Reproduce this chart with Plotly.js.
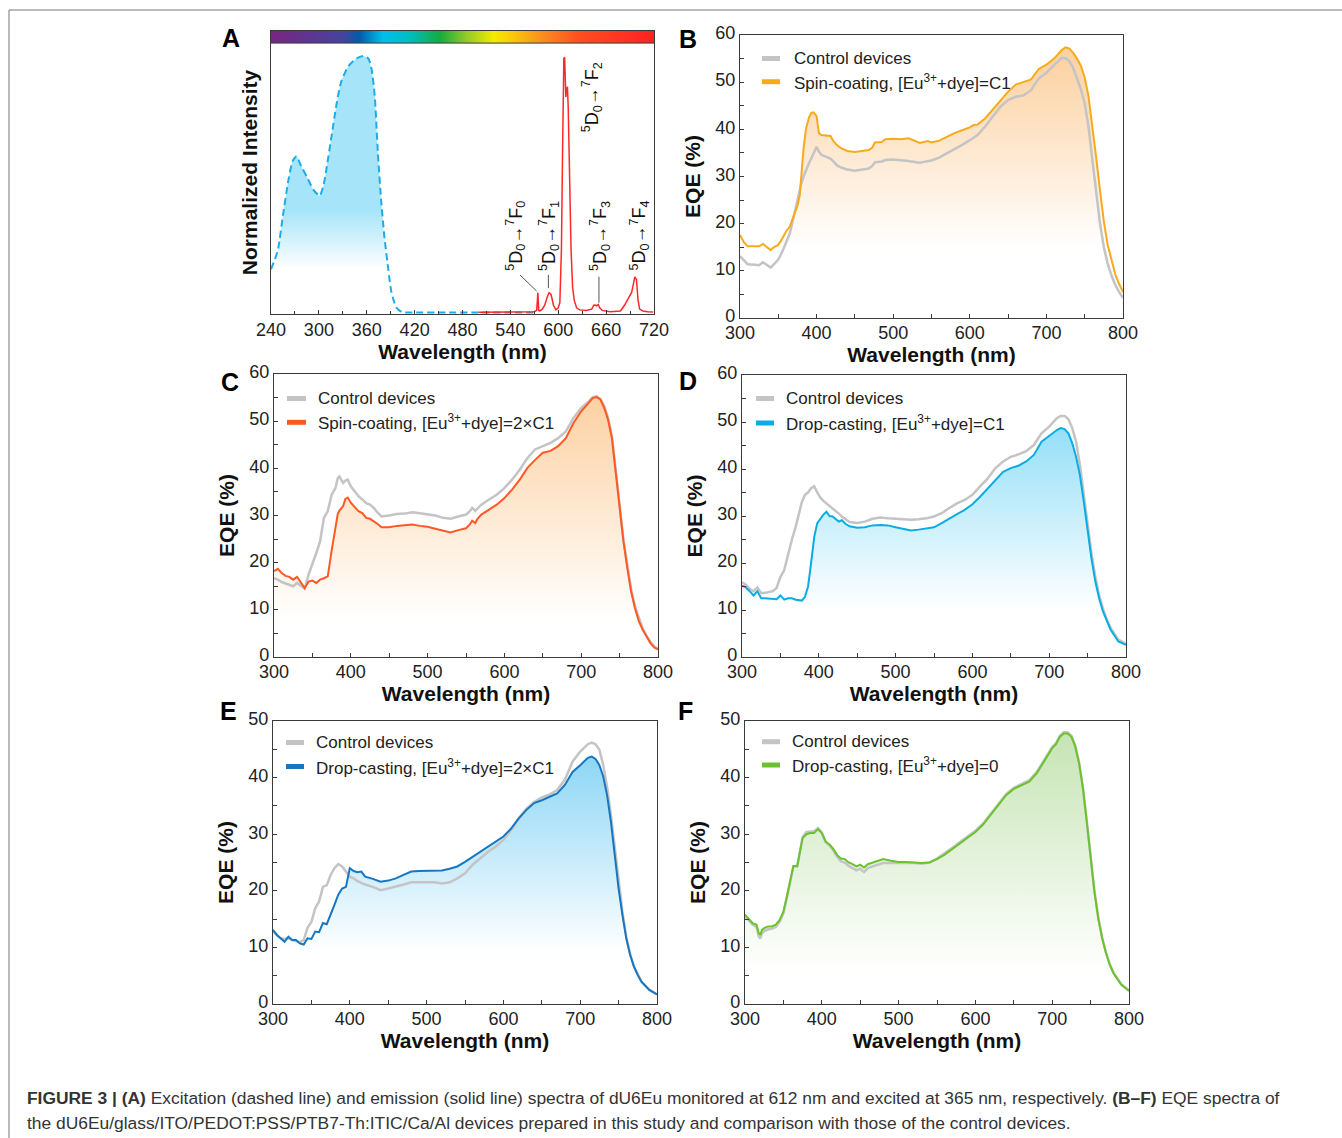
<!DOCTYPE html>
<html>
<head>
<meta charset="utf-8">
<script src="https://cdn.plot.ly/plotly-3.0.1.min.js"></script>
<style>html,body{margin:0;padding:0;background:#fff;}#chart{width:1342px;height:1138px;}</style>
</head>
<body>
<div id="chart"></div>
<script>
// ---------------- DATA ----------------
// Panel A: excitation (dashed) and emission (solid)
const A_exc_nm = [240,245,249,255,262,267,272,278,285,293,301,306,310,316,322,328,337,347,356,362,366,370,374,378,382,387,391,397,404,420,460,500,540,572];
const A_exc_int = [0.17,0.21,0.25,0.38,0.52,0.59,0.61,0.57,0.53,0.48,0.456,0.50,0.57,0.69,0.81,0.90,0.96,0.99,1.0,0.99,0.95,0.845,0.62,0.44,0.30,0.17,0.08,0.022,0.004,0.002,0.002,0.002,0.002,0.002];
const A_em_nm = [500,540,570,573,574.5,575.5,577,580,583,586,588.5,591,594,597,600,602,604,605.5,607,608,609.5,610.5,611.5,612.5,614,616,618,620,623,627,635,642,644.5,646,648,650,652,655,665,678,683,686,689,692,694,696,698,700,702,706,712,719];
const A_em_int = [0.003,0.004,0.005,0.01,0.079,0.01,0.008,0.015,0.03,0.06,0.079,0.072,0.03,0.012,0.02,0.04,0.25,0.65,0.99,0.995,0.84,0.87,0.88,0.8,0.55,0.25,0.1,0.05,0.02,0.012,0.01,0.015,0.03,0.031,0.028,0.033,0.02,0.01,0.005,0.008,0.03,0.045,0.062,0.08,0.11,0.14,0.13,0.05,0.015,0.008,0.005,0.004];
const A_transitions = ['<sup>5</sup>D<sub>0</sub>→<sup>7</sup>F<sub>0</sub>','<sup>5</sup>D<sub>0</sub>→<sup>7</sup>F<sub>1</sub>','<sup>5</sup>D<sub>0</sub>→<sup>7</sup>F<sub>2</sub>','<sup>5</sup>D<sub>0</sub>→<sup>7</sup>F<sub>3</sub>','<sup>5</sup>D<sub>0</sub>→<sup>7</sup>F<sub>4</sub>'];
const A_ticks = [240,300,360,420,480,540,600,660,720];
const BAR_nm = [240,720];

// Panel B
const B_nm = [300,305,310,320,325,330,335,340,345,350,355,360,365,370,375,378,380,383,386,390,393,396,400,403,406,412,418,422,427,432,440,450,460,468,473,476,485,490,500,510,520,530,535,540,545,550,560,570,580,590,600,605,610,620,630,640,650,660,670,680,690,700,710,720,725,730,735,740,745,750,755,760,765,770,775,780,785,790,795,800];
const B_dev = [17.6,16.1,15.2,15.1,15.2,15.7,15.1,14.4,15.1,15.5,16.8,18.3,19.4,21.4,23.8,26.0,30.0,36.0,40.0,42.5,43.5,43.6,42.8,39.2,38.8,38.7,38.6,37.5,36.6,36.0,35.4,35.2,35.4,35.6,36.2,37.2,37.3,37.9,38.0,37.9,38.1,37.4,37.1,37.3,37.5,37.2,37.6,38.4,39.2,39.8,40.4,40.9,41.0,42.3,44.2,46.0,48.0,49.5,50.0,50.6,52.8,53.7,55.0,56.8,57.4,57.1,56.2,55.0,53.5,51.0,47.0,41.0,34.0,27.0,20.5,15.5,12.0,9.2,7.2,5.5];
const B_ctrl = [13.1,12.2,11.4,11.3,11.2,11.8,11.2,10.7,11.5,12.4,14.0,15.8,17.9,21.4,25.0,27.0,28.5,30.0,31.4,32.8,33.8,34.8,36.3,35.3,34.6,34.2,33.8,33.2,32.3,31.9,31.5,31.2,31.5,31.7,32.3,33.0,33.2,33.5,33.6,33.5,33.3,33.0,32.9,33.1,33.3,33.4,34.0,34.9,35.7,36.7,37.7,38.3,38.8,40.6,42.7,44.8,46.2,46.9,47.2,48.3,50.8,52.0,53.6,55.1,55.1,54.4,53.0,50.8,48.5,45.5,40.5,33.5,26.5,20.0,15.0,11.5,9.0,7.0,5.5,4.3];

// Panel C
const C_nm = [300,305,310,315,320,325,330,335,340,345,350,355,360,365,370,375,380,383,385,390,393,396,400,405,410,415,420,425,430,435,440,450,460,470,480,490,500,510,520,530,540,550,555,558,562,565,570,580,590,600,610,620,630,640,650,660,670,680,690,700,710,715,720,725,730,735,740,745,750,755,760,765,770,775,780,785,790,795,800];
const C_dev = [18.2,18.7,17.8,17.2,17.0,16.4,17.0,15.7,14.6,16.0,16.2,15.7,16.4,16.7,17.1,22.5,27.5,30.3,31.0,32.0,33.5,33.8,32.7,31.9,30.9,30.5,29.5,29.3,28.8,28.2,27.5,27.5,27.8,27.9,28.1,27.8,27.6,27.2,26.8,26.4,26.9,27.3,28.1,28.9,28.4,29.3,30.2,31.2,32.3,33.7,35.5,37.6,40.1,41.8,43.3,43.7,44.7,46.4,49.6,52.1,53.9,54.9,55.1,54.6,52.8,50.3,46.4,39.4,31.6,24.5,18.9,13.9,10.4,7.6,5.8,4.4,3.0,2.0,1.6];
const C_ctrl = [16.7,16.4,15.9,15.6,15.3,15.0,15.7,15.1,14.5,17.5,19.6,22.0,24.5,29.5,30.9,34.4,35.8,37.9,38.3,36.9,37.4,37.6,36.2,35.1,34.1,33.4,32.6,32.3,31.6,30.6,29.8,30.0,30.3,30.4,30.7,30.5,30.3,30.0,29.5,29.3,29.8,30.2,30.9,31.6,31.0,31.5,32.3,33.4,34.4,35.8,37.6,39.7,42.2,44.0,44.7,45.4,46.4,47.8,50.7,52.8,54.2,55.1,55.3,54.7,53.2,50.7,46.8,40.1,32.3,24.9,19.2,14.3,10.7,8.2,6.1,4.5,3.2,2.3,1.7];

// Panel D
const D_nm = [300,305,310,315,320,323,325,330,340,345,350,355,360,365,370,375,378,382,386,390,394,398,402,406,410,414,418,422,426,430,435,440,450,460,470,480,490,500,510,520,530,540,550,560,570,580,590,600,610,620,630,640,650,660,670,680,690,700,710,715,720,725,730,735,740,745,750,755,760,765,770,775,780,790,800];
const D_dev = [15.2,14.8,14.0,13.1,14.0,13.2,12.5,12.5,12.4,12.3,13.1,12.2,12.5,12.5,12.2,12.0,12.0,12.8,15.0,20.0,25.5,28.5,29.5,30.3,30.9,30.0,29.9,29.3,28.8,29.1,28.3,27.8,27.5,27.6,28.0,28.1,28.0,27.6,27.3,26.9,27.1,27.3,27.6,28.5,29.5,30.4,31.3,32.5,34.1,35.9,37.7,39.4,40.2,40.7,41.6,43.0,45.8,47.1,48.3,48.7,48.5,47.6,45.5,42.6,38.7,33.1,26.7,21.0,16.1,12.5,9.7,7.6,5.8,3.3,2.6];
const D_ctrl = [15.9,15.4,14.5,14.0,14.8,14.0,13.6,13.6,14.0,14.7,17.0,18.5,22.0,25.0,27.8,30.9,33.0,34.5,35.0,35.9,36.3,35.0,33.9,33.2,32.7,32.1,31.6,31.0,30.5,29.9,29.3,28.7,28.5,28.8,29.4,29.7,29.5,29.4,29.2,29.2,29.3,29.5,29.9,30.6,31.7,32.7,33.4,34.5,36.3,38.0,40.2,41.6,42.6,43.1,43.8,45.1,47.6,49.0,50.8,51.3,51.3,50.6,48.7,45.8,40.9,34.5,28.1,22.1,17.1,13.2,10.3,8.0,6.2,3.7,2.8];

// Panel E
const E_nm = [300,305,310,315,320,325,330,335,340,345,350,355,360,365,370,375,380,385,390,395,400,405,410,415,420,430,440,450,460,470,480,490,500,510,520,530,540,550,560,570,580,590,600,610,620,630,640,650,660,670,680,690,700,710,715,720,725,730,735,740,745,750,755,760,765,770,775,780,790,800];
const E_dev = [13.1,12.2,11.6,11.0,11.9,11.3,11.3,10.7,10.5,11.6,11.5,12.8,12.7,14.3,14.1,15.7,17.5,19.3,20.4,20.7,24.0,23.5,23.3,23.4,22.5,22.1,21.6,21.8,22.2,22.8,23.4,23.5,23.5,23.6,23.6,23.9,24.3,25.1,26.0,26.9,27.8,28.6,29.6,31.0,32.8,34.3,35.5,36.0,36.6,37.2,38.7,41.0,42.2,43.5,43.7,43.3,42.2,40.2,36.9,32.2,26.3,20.4,15.7,11.6,8.7,6.6,5.1,3.9,2.5,1.7];
const E_ctrl = [12.8,12.2,11.6,11.5,11.6,11.3,11.1,10.9,11.3,13.5,14.5,16.9,18.1,20.7,21.0,22.8,24.0,24.7,24.3,23.4,22.5,22.2,21.7,21.4,21.1,20.7,20.1,20.4,20.7,21.1,21.5,21.5,21.4,21.5,21.3,21.5,22.2,23.1,24.6,25.7,26.9,27.8,29.0,30.7,32.8,34.5,35.7,36.5,37.0,37.8,39.6,42.8,44.6,45.9,46.2,45.9,44.9,42.2,38.4,33.4,27.5,21.6,16.3,11.9,8.8,6.6,5.1,3.9,2.5,1.7];

// Panel F
const F_nm = [300,305,310,315,318,320,322,325,330,335,340,345,350,355,360,363,368,372,375,380,385,390,395,400,405,410,415,420,425,430,435,440,445,450,455,460,465,470,475,480,490,500,510,520,530,540,550,560,570,580,590,600,610,620,630,640,650,660,670,680,690,700,705,710,715,720,725,730,735,740,745,750,755,760,765,770,775,780,790,800];
const F_dev = [15.8,15.1,14.3,14.0,12.5,12.2,13.1,13.4,13.7,13.7,14.0,14.8,16.3,19.3,22.2,24.4,24.4,27.5,29.3,30.0,30.2,30.2,30.9,30.2,28.7,28.2,27.4,26.3,25.7,25.6,25.0,24.7,24.3,24.6,24.1,24.7,24.9,25.1,25.3,25.6,25.3,25.1,25.1,25.0,24.9,25.0,25.6,26.4,27.4,28.4,29.4,30.4,31.7,33.4,35.2,36.9,38.0,38.7,39.3,40.8,43.1,45.2,45.9,47.2,47.8,47.8,47.2,45.5,42.5,38.1,32.2,25.7,19.8,15.1,11.6,9.0,6.9,5.4,3.4,2.3];
const F_ctrl = [15.5,14.8,14.0,13.6,11.9,11.6,12.5,12.9,13.2,13.3,13.6,14.5,16.0,19.1,22.1,24.3,24.3,27.4,29.5,30.4,30.5,30.5,31.1,30.3,28.6,28.0,27.1,26.0,25.2,25.0,24.4,24.0,23.6,23.9,23.3,24.0,24.3,24.5,24.7,24.9,24.9,24.9,25.0,24.9,24.8,25.0,25.7,26.6,27.6,28.6,29.6,30.6,31.9,33.6,35.4,37.1,38.2,38.9,39.5,41.0,43.3,45.4,46.1,47.4,48.0,48.0,47.4,45.7,42.7,38.3,32.4,25.9,20.0,15.3,11.8,9.1,7.0,5.5,3.5,2.4];

const CTRL_NAME = 'Control devices';
const DEV_NAMES = {
  B: 'Spin-coating, [Eu<sup>3+</sup>+dye]=C1',
  C: 'Spin-coating, [Eu<sup>3+</sup>+dye]=2×C1',
  D: 'Drop-casting, [Eu<sup>3+</sup>+dye]=C1',
  E: 'Drop-casting, [Eu<sup>3+</sup>+dye]=2×C1',
  F: 'Drop-casting, [Eu<sup>3+</sup>+dye]=0'
};

// ---------------- STYLE / LAYOUT ----------------
const W = 1342, H = 1138;
const PX = v => v / W;
const PY = v => 1 - v / H;
const FONT = 'Arial, "Liberation Sans", Helvetica, sans-serif';
const GRAY = 'rgb(196,196,198)';

const panels = [
  {key:'B', ax:2, nm:B_nm, dev:B_dev, ctrl:B_ctrl, line:'rgb(248,170,30)', fill:'rgb(252,210,162)', g0:15, g1:55, dom:[740,1123,35,318], ymax:60,
   leg:{x0:762,x1:780,y1:58.5,y2:81.7,tx:792}, letter:[688,38.5]},
  {key:'C', ax:3, nm:C_nm, dev:C_dev, ctrl:C_ctrl, line:'rgb(255,88,36)', fill:'rgb(252,208,160)', g0:8, g1:56, dom:[274,658,374,657], ymax:60,
   leg:{x0:287,x1:306,y1:398.5,y2:422.3,tx:316}, letter:[230,382]},
  {key:'D', ax:4, nm:D_nm, dev:D_dev, ctrl:D_ctrl, line:'rgb(10,172,228)', fill:'rgb(150,224,248)', g0:10, g1:48, dom:[742,1126,375,657], ymax:60,
   leg:{x0:756,x1:774,y1:398.5,y2:423,tx:784}, letter:[688,381]},
  {key:'E', ax:5, nm:E_nm, dev:E_dev, ctrl:E_ctrl, line:'rgb(22,118,194)', fill:'rgb(140,214,245)', g0:9, g1:44, dom:[273,657,721,1004], ymax:50,
   leg:{x0:286,x1:304,y1:742.5,y2:766.5,tx:314}, letter:[228,711]},
  {key:'F', ax:6, nm:F_nm, dev:F_dev, ctrl:F_ctrl, line:'rgb(108,194,44)', fill:'rgb(198,228,180)', g0:6, g1:48, dom:[745,1129,721,1004], ymax:50,
   leg:{x0:762,x1:780,y1:741.7,y2:765,tx:790}, letter:[686,711]}
];

const data = [];
const annotations = [];
const shapes = [];

function baseAxis() {
  return {
    showline:true, mirror:true, linecolor:'#3a3a3a', linewidth:1.2,
    ticks:'inside', ticklen:4, tickwidth:1, tickcolor:'#3a3a3a',
    tickfont:{family:FONT, size:18, color:'#222'},
    showgrid:false, zeroline:false, fixedrange:true
  };
}
const TITLE_FONT = {family:FONT, size:21, weight:700, color:'#111'};

const layout = {
  width:W, height:H, margin:{l:0,r:0,t:0,b:0},
  paper_bgcolor:'#fff', plot_bgcolor:'#fff',
  showlegend:false, font:{family:FONT, color:'#222'}
};

// ---- Panel A ----
data.push({
  type:'heatmap', x:BAR_nm, y:[1.05,1.097], z:[BAR_nm], zsmooth:'best', showscale:false, hoverinfo:'skip',
  colorscale:[[0,'rgb(118,38,128)'],[0.1875,'rgb(70,68,158)'],[0.23,'rgb(0,92,172)'],[0.29,'rgb(0,190,236)'],[0.36,'rgb(0,190,190)'],[0.44,'rgb(20,172,62)'],[0.51,'rgb(150,202,40)'],[0.58,'rgb(242,236,0)'],[0.63,'rgb(250,200,12)'],[0.71,'rgb(250,140,30)'],[0.80,'rgb(255,80,30)'],[1,'rgb(255,32,36)']],
  xaxis:'x', yaxis:'y'
});
data.push({
  type:'scatter', mode:'lines', name:'Excitation', x:A_exc_nm, y:A_exc_int, xaxis:'x', yaxis:'y',
  line:{color:'rgb(28,172,232)', width:2, dash:'7px,4px', shape:'spline', smoothing:0.6},
  fill:'tozeroy', fillgradient:{type:'vertical', start:0.17, stop:0.40, colorscale:[[0,'rgb(255,255,255)'],[1,'rgb(166,229,249)']]},
  hoverinfo:'x+y'
});
data.push({
  type:'scatter', mode:'lines', name:'Emission', x:A_em_nm, y:A_em_int, xaxis:'x', yaxis:'y',
  line:{color:'rgb(255,40,40)', width:1.5}, hoverinfo:'x+y'
});
layout.xaxis = Object.assign(baseAxis(), {
  domain:[PX(271), PX(654)], anchor:'y', range:[240,720], tickvals:A_ticks, ticklabelstandoff:-1,
  minor:{ticks:'inside', ticklen:3, dtick:30, tick0:240, tickcolor:'#3a3a3a'},
  title:{text:'Wavelength (nm)', font:TITLE_FONT, standoff:2}
});
layout.yaxis = Object.assign(baseAxis(), {
  domain:[PY(314), PY(31)], anchor:'x', range:[-0.004,1.097], showticklabels:false, ticks:'',
  title:{text:'Normalized Intensity', font:TITLE_FONT, standoff:6}
});
// colour bar frame
shapes.push({type:'line', xref:'x', yref:'y', x0:240, x1:720, y0:1.05, y1:1.05, line:{color:'#3a3a3a', width:1}});
// transition labels
const labPos = [[547,0.30],[588.5,0.30],[642,0.838],[652.5,0.30],[702,0.30]];
A_transitions.forEach((t,i) => {
  annotations.push({xref:'x', yref:'y', x:labPos[i][0], y:labPos[i][1], text:t, textangle:-90, showarrow:false,
    xanchor:'center', yanchor:'middle', font:{family:FONT, size:18, color:'#111'}});
});
[[552,0.148,573,0.085],[587.6,0.148,587.6,0.097],[651,0.141,651,0.04]].forEach(s => {
  shapes.push({type:'line', xref:'x', yref:'y', x0:s[0], y0:s[1], x1:s[2], y1:s[3], line:{color:'#555', width:1}});
});
annotations.push({xref:'paper', yref:'paper', x:PX(231), y:PY(38), xanchor:'center', yanchor:'middle', text:'<b>A</b>', showarrow:false, font:{family:FONT, size:25, color:'#000'}});

// ---- Panels B-F ----
panels.forEach(p => {
  const xa = 'x' + p.ax, ya = 'y' + p.ax;
  // fill under device curve
  data.push({type:'scatter', mode:'lines', name:'', x:p.nm, y:p.dev, xaxis:xa, yaxis:ya,
    line:{width:0, color:p.line}, fill:'tozeroy',
    fillgradient:{type:'vertical', start:p.g0, stop:p.g1, colorscale:[[0,'rgb(255,255,255)'],[1,p.fill]]},
    hoverinfo:'skip', showlegend:false});
  data.push({type:'scatter', mode:'lines', name:CTRL_NAME, x:p.nm, y:p.ctrl, xaxis:xa, yaxis:ya,
    line:{color:GRAY, width:2.5}});
  data.push({type:'scatter', mode:'lines', name:DEV_NAMES[p.key], x:p.nm, y:p.dev, xaxis:xa, yaxis:ya,
    line:{color:p.line, width:2}});
  layout['xaxis' + p.ax] = Object.assign(baseAxis(), {
    domain:[PX(p.dom[0]), PX(p.dom[1])], anchor:ya, range:[300,800], dtick:100, tick0:300, ticklabelstandoff:-2,
    minor:{ticks:'inside', ticklen:4, dtick:50, tick0:300, tickcolor:'#3a3a3a'},
    title:{text:'Wavelength (nm)', font:TITLE_FONT, standoff:2}
  });
  layout['yaxis' + p.ax] = Object.assign(baseAxis(), {
    domain:[PY(p.dom[3]), PY(p.dom[2])], anchor:xa, range:[0,p.ymax], dtick:10, tick0:0, ticklabelshift:-2,
    minor:{ticks:'inside', ticklen:4, dtick:5, tick0:0, tickcolor:'#3a3a3a'},
    title:{text:'EQE (%)', font:TITLE_FONT, standoff:8}
  });
  // legend (manual)
  const L = p.leg;
  shapes.push({type:'line', xref:'paper', yref:'paper', x0:PX(L.x0), x1:PX(L.x1), y0:PY(L.y1), y1:PY(L.y1), line:{color:GRAY, width:5}});
  shapes.push({type:'line', xref:'paper', yref:'paper', x0:PX(L.x0), x1:PX(L.x1), y0:PY(L.y2), y1:PY(L.y2), line:{color:p.line, width:5}});
  annotations.push({xref:'paper', yref:'paper', x:PX(L.tx), y:PY(L.y1), xanchor:'left', yanchor:'middle', text:CTRL_NAME, showarrow:false, font:{family:FONT, size:17, color:'#222'}});
  annotations.push({xref:'paper', yref:'paper', x:PX(L.tx), y:PY(L.y2), xanchor:'left', yanchor:'middle', text:DEV_NAMES[p.key], showarrow:false, font:{family:FONT, size:17, color:'#222'}});
  annotations.push({xref:'paper', yref:'paper', x:PX(p.letter[0]), y:PY(p.letter[1]), xanchor:'center', yanchor:'middle', text:'<b>' + p.key + '</b>', showarrow:false, font:{family:FONT, size:25, color:'#000'}});
});

// outer frame
shapes.push({type:'line', xref:'paper', yref:'paper', x0:PX(9), x1:1, y0:PY(10), y1:PY(10), line:{color:'#777', width:1}});
shapes.push({type:'line', xref:'paper', yref:'paper', x0:PX(9), x1:PX(9), y0:PY(10), y1:0, line:{color:'#777', width:1}});

// caption
annotations.push({xref:'paper', yref:'paper', x:PX(25), y:PY(1098), xanchor:'left', yanchor:'middle', showarrow:false,
  text:'<b>FIGURE 3 | (A)</b> Excitation (dashed line) and emission (solid line) spectra of dU6Eu monitored at 612 nm and excited at 365 nm, respectively. <b>(B–F)</b> EQE spectra of',
  font:{family:FONT, size:17.4, color:'#333'}});
annotations.push({xref:'paper', yref:'paper', x:PX(25), y:PY(1123), xanchor:'left', yanchor:'middle', showarrow:false,
  text:'the dU6Eu/glass/ITO/PEDOT:PSS/PTB7-Th:ITIC/Ca/Al devices prepared in this study and comparison with those of the control devices.',
  font:{family:FONT, size:17.4, color:'#333'}});

layout.annotations = annotations;
layout.shapes = shapes;

Plotly.newPlot('chart', data, layout, {displayModeBar:false, staticPlot:true});
</script>
</body>
</html>
